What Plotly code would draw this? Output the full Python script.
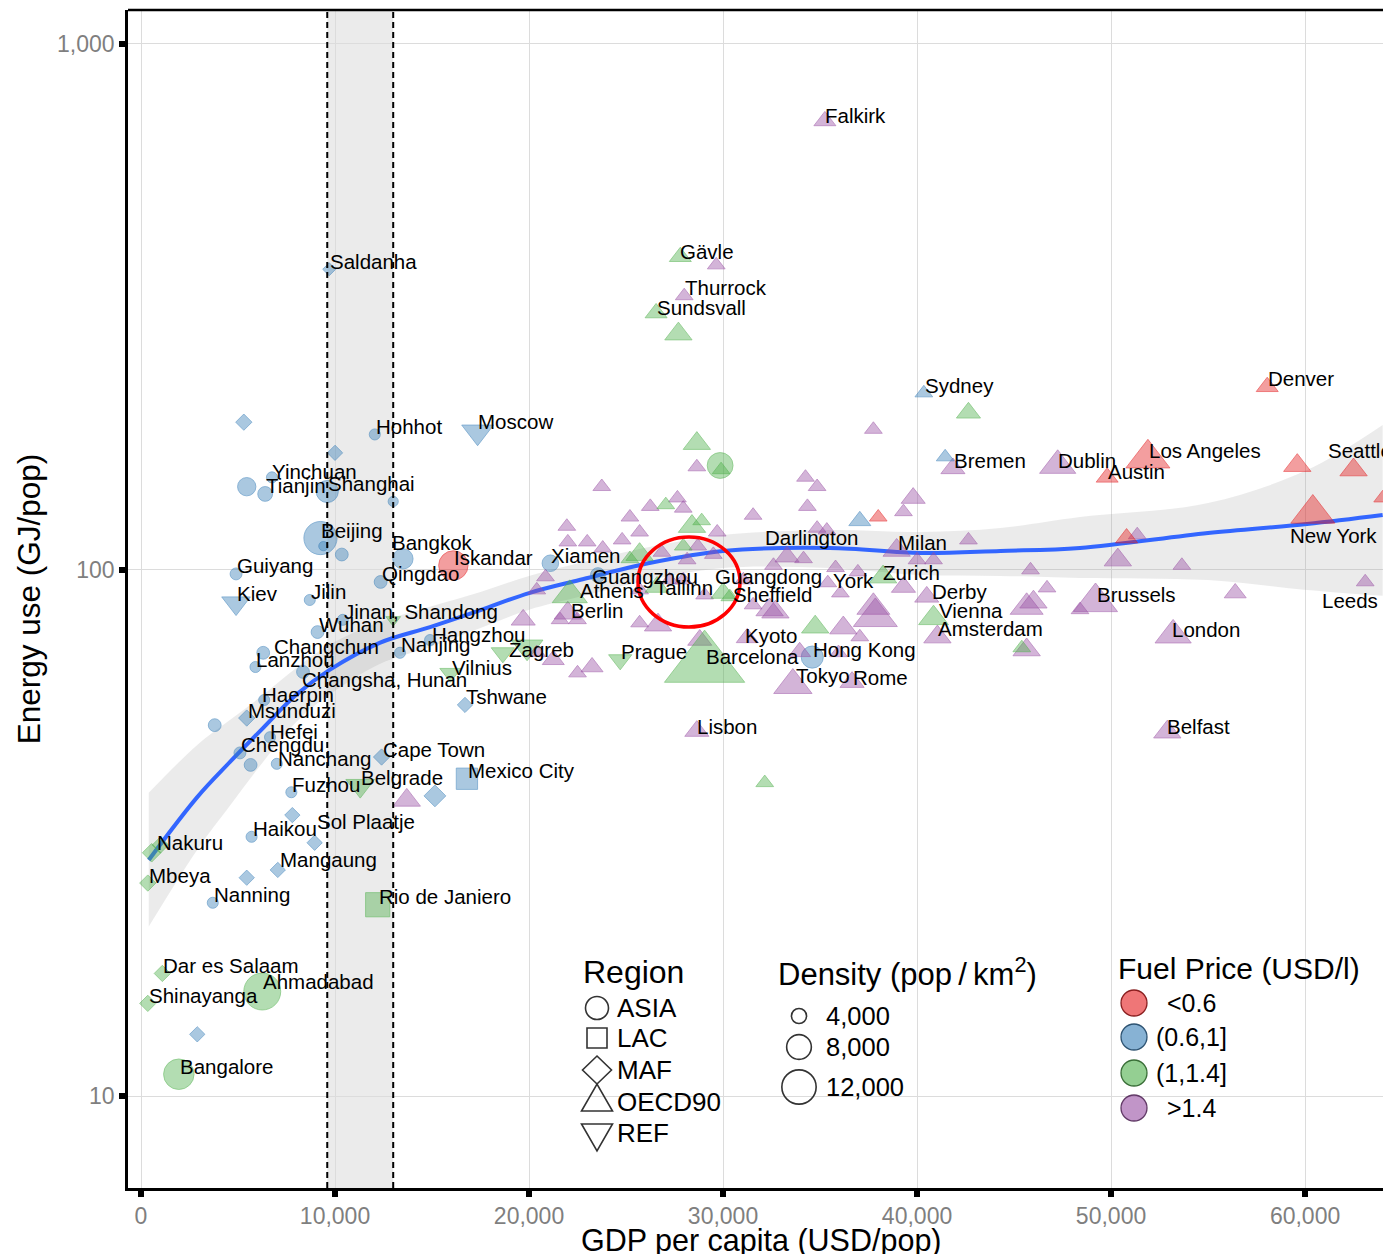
import math
import plotly.graph_objects as go

# ---------------------------------------------------------------- data
R, B, G, P = "<0.6", "(0.6,1]", "(1,1.4]", ">1.4"

# ASIA (circles)
asia_city = ["Hohhot", "Yinchuan", "", "Tianjin", "Shanghai", "", "Beijing", "", "", "Bangkok",
             "Guiyang", "Jilin", "Qingdao", "Jinan, Shandong", "Wuhan", "Changchun", "Lanzhou",
             "Changsha, Hunan", "Haerpin", "", "Hefei", "Chengdu", "", "Nanchang", "Fuzhou", "Haikou",
             "Nanning", "Nanjing", "Hangzhou", "Iskandar", "Xiamen", "Guangzhou", "Hong Kong", "",
             "Ahmadabad", "Bangalore"]
asia_gdp = [12050, 6750, 5450, 6400, 9600, 13000, 9250, 9400, 10350, 13500,
            4900, 8700, 12350, 10400, 9100, 6300, 5900, 8350, 6350, 3800,
            6650, 5100, 5650, 7000, 7750, 5700, 3700, 13350, 14900, 16100,
            21100, 23550, 34600, 29850, 6250, 1950]
asia_energy = [181, 150, 144, 139.5, 141, 135, 115, 111, 107, 105,
               98.3, 87.7, 94.9, 80.4, 76.2, 69.6, 65.4, 64.0, 56.6, 50.7,
               48.1, 44.9, 42.6, 42.8, 37.8, 31.1, 23.3, 69.6, 73.6, 102,
               103, 97.8, 68.3, 158, 15.8, 11.0]
asia_fuel = [B] * 29 + [R, B, B, B, G, G, G]
asia_density = [2700, 2700, 6000, 4400, 7700, 2300, 12700, 1900, 3500, 6900,
                3100, 2700, 3500, 2700, 3500, 3500, 2700, 3500, 2700, 3500,
                2700, 3100, 3500, 2700, 2700, 2700, 2700, 2700, 2700, 11000,
                5200, 4400, 7700, 9400, 14400, 11500]

# MAF (diamonds)
maf_city = ["", "", "Saldanha", "Msunduzi", "", "Sol Plaatje", "Mangaung", "", "Cape Town", "",
            "Tshwane", "", "Nakuru", "", "Mbeya", "Dar es Salaam", "Shinayanga"]
maf_gdp = [5300, 10000, 9700, 5450, 7800, 8950, 7050, 5450, 12400, 15150,
           16700, 2900, 550, 1000, 350, 1100, 350]
maf_energy = [191, 167, 373, 52.3, 34.2, 30.3, 26.9, 26.0, 44.1, 37.2,
              55.4, 13.1, 29.0, 30.0, 25.4, 17.1, 15.0]
maf_fuel = [B] * 12 + [G] * 5
maf_density = [2700, 2400, 1700, 2700, 2400, 2400, 2400, 2400, 2700, 4400,
               2400, 2400, 3400, 2700, 2700, 2700, 2700]

# LAC (squares)
lac_city = ["Mexico City", "Rio de Janiero"]
lac_gdp = [16800, 12200]
lac_energy = [40.1, 23.1]
lac_fuel = [B, G]
lac_density = [8100, 9500]

# REF (triangles down)
ref_city = ["Kiev", "Moscow", "", "Belgrade", "Zagreb", "", "Vilnius", "Prague"]
ref_gdp = [4900, 17350, 13000, 11300, 18650, 19900, 15950, 24700]
ref_energy = [86.5, 183, 80.4, 38.9, 69.6, 71.4, 63.7, 67.5]
ref_fuel = [B, B, G, G, G, G, G, G]
ref_density = [6100, 7000, 2000, 6100, 4500, 7000, 3900, 4500]

# OECD90 (triangles up), split by fuel price class
oecd_red_city = ["Denver", "Los Angeles", "Austin", "", "Seattle", "", "New York", "", ""]
oecd_red_gdp = [58050, 51900, 49800, 59600, 62500, 64000, 60400, 50800, 38000]
oecd_red_energy = [223, 163, 150, 158, 155, 137, 128, 115, 126]
oecd_red_density = [3900, 10100, 3900, 5400, 5400, 2700, 10100, 3900, 2700]

oecd_blue_city = ["Sydney", "", ""]
oecd_blue_gdp = [40350, 41450, 37050]
oecd_blue_energy = [217, 164, 124]
oecd_blue_density = [2700, 2700, 3900]

oecd_green_city = ["Gävle", "Sundsvall", "", "", "", "", "", "", "", "", "", "",
                   "Athens", "Tallinn", "", "", "Barcelona", "", "Zurich", "Vienna", "", ""]
oecd_green_gdp = [27800, 26550, 27700, 42650, 28650, 29900, 27050, 28400, 28900, 25700, 27950, 25200,
                  22100, 26600, 30000, 30350, 29050, 34750, 38250, 40850, 45400, 32150]
oecd_green_energy = [394, 308, 281, 199, 174, 155, 133, 121, 124, 107, 111, 105,
                     89.6, 92.8, 90.4, 88.9, 66.0, 77.9, 97.0, 81.0, 71.1, 39.4]
oecd_green_density = [3900, 3900, 5400, 4500, 5400, 2700, 2700, 5400, 2700, 5400, 2700, 2700,
                      7600, 4500, 4500, 2700, 20300, 5400, 5400, 6100, 2700, 2700]

oecd_purple_city = ["Falkirk", "", "Thurrock", "", "", "", "Bremen", "Dublin", "", "",
                    "", "", "", "", "", "", "", "", "", "",
                    "", "", "", "", "", "", "", "", "", "",
                    "", "Guangdong", "Darlington", "", "", "Milan", "", "", "", "",
                    "", "", "", "", "", "", "Sheffield", "", "", "",
                    "", "", "", "York", "Derby", "", "", "", "", "",
                    "Amsterdam", "", "", "", "", "", "Tokyo", "Rome", "Berlin", "",
                    "", "", "", "", "", "Kyoto", "", "", "", "",
                    "Lisbon", "", "", "", "", "Brussels", "", "Leeds", "London", "Belfast",
                    ""]
oecd_purple_gdp = [35250, 29650, 28000, 28650, 23750, 37750, 41850, 47250, 34250, 34850,
                   34350, 39800, 39300, 27650, 26250, 27950, 25200, 21950, 25700, 29700,
                   31550, 34850, 35350, 42650, 22000, 23000, 23800, 24800, 26850, 28150,
                   28700, 29500, 33300, 34150, 32600, 38950, 40000, 40850, 45850, 35800,
                   36950, 20850, 20400, 25700, 27250, 27950, 29050, 31050, 31550, 32400,
                   39300, 46700, 36050, 35400, 40500, 46000, 45650, 32700, 37750, 37850,
                   41050, 45650, 36200, 37050, 33950, 35950, 33600, 36650, 22000, 21600,
                   22500, 19700, 25700, 26650, 28800, 31250, 20400, 21250, 22500, 23250,
                   28650, 13700, 51350, 50350, 53650, 49200, 56400, 63100, 53200, 52900,
                   48400]
oecd_purple_energy = [714, 380, 332, 157, 144, 185, 156, 158, 150, 144,
                      132, 137, 129, 137, 132, 131, 126, 121, 118, 118,
                      127, 120, 119, 114, 113, 113, 110, 114, 108, 104.5,
                      111, 107, 106, 105, 102, 109, 104.5, 104.5, 100, 101,
                      99.1, 97.0, 91.6, 91.6, 95.7, 95.7, 89.6, 95.7, 85.8, 84.0,
                      92.8, 92.4, 90.4, 94.5, 88.9, 86.9, 85.0, 83.2, 85.0, 81.4,
                      74.6, 70.5, 77.6, 74.6, 69.9, 69.6, 60.4, 61.2, 82.8, 80.4,
                      80.4, 80.4, 79.3, 78.6, 73.6, 74.3, 69.6, 67.5, 63.7, 65.4,
                      49.4, 36.5, 116.6, 104.5, 102, 86.9, 90.4, 94.9, 75.2, 49.2,
                      84.0]
oecd_purple_density = [3900, 2700, 2700, 2700, 2700, 2700, 4500, 7900, 2700, 2700,
                       2700, 4500, 2700, 2700, 2700, 2700, 2700, 2700, 2700, 2700,
                       2700, 2700, 2700, 2700, 2700, 2700, 2700, 2700, 2700, 2700,
                       2700, 2700, 4500, 2700, 2700, 5400, 2700, 2700, 2700, 2700,
                       2700, 2700, 2700, 2700, 2700, 2700, 2700, 2700, 2700, 5400,
                       4500, 2700, 2700, 2700, 4500, 5400, 7000, 5400, 7000, 10100,
                       5400, 5400, 5400, 2700, 3900, 2700, 8500, 4500, 5400, 2700,
                       2700, 4500, 2700, 5400, 4500, 3900, 2700, 3900, 2700, 3900,
                       4500, 5400, 2700, 5400, 2700, 10100, 3900, 2700, 7900, 5400,
                       2700]

# loess fit with confidence band
smooth_gdp = [400, 2900, 4600, 6300, 8000, 9700, 12300, 14900, 17500, 20000,
              22600, 26200, 30000, 35500, 40200, 44300, 48400, 55000, 60100, 64000]
smooth_fit = [28.1, 37.0, 43.2, 50.1, 57.9, 64.5, 72.7, 77.9, 83.9, 90.4,
              95.7, 103.1, 108.7, 110.1, 107.7, 108.7, 110.1, 117.6, 122.3, 127.2]
smooth_hi = [37.7, 46.5, 51.9, 57.9, 65.1, 72.0, 79.6, 85.1, 90.8, 97.4,
             103.1, 110.6, 116.6, 119.1, 118.1, 120.2, 126.1, 134.1, 154.9, 188.7]
smooth_lo = [21.0, 29.4, 35.7, 43.2, 51.4, 57.9, 66.3, 71.4, 77.6, 84.0,
             88.9, 95.7, 100.9, 100.9, 97.8, 97.4, 96.6, 95.7, 91.6, 89.3]

band_gdp = [9600, 13000]

x_ticks = [0, 10000, 20000, 30000, 40000, 50000, 60000]
y_ticks = [10, 100, 1000]
y_ticktext = ["10", "100", "1,000"]

region_levels = ["ASIA", "LAC", "MAF", "OECD90", "REF"]
density_levels = [4000, 8000, 12000]
fuel_levels = [R, B, G, P]

# ---------------------------------------------------------------- styles
FONT = "Liberation Sans, Arial, Helvetica, sans-serif"
FUEL_RGB = {R: (228, 26, 28), B: (55, 126, 184), G: (77, 175, 74), P: (152, 78, 163)}
SYMBOL = {"ASIA": "circle", "LAC": "square", "MAF": "diamond",
          "OECD90": "triangle-up", "REF": "triangle-down"}
SHAPE_FACTOR = {"ASIA": 0.97, "LAC": 0.9, "MAF": 1.1, "OECD90": 1.35, "REF": 1.3}
POINT_SCALE = 0.95


def rgba(f, a):
    r, g, b = FUEL_RGB[f]
    return f"rgba({r},{g},{b},{a})"


def diam(dens):
    return 5.5 + 0.0024 * dens


# label nudges (pixels: dx right, dy down) relative to default placement
DEFAULT_NUDGE = (1, -8)
NUDGE = {
    "Seattle": (-26, -19), "New York": (-23, 22), "Darlington": (-22, -19),
    "Bangkok": (-11, -16), "Moscow": (0, -10), "Guangzhou": (-6, 1), "Guangdong": (2, 22),
    "York": (5, -2), "Zurich": (0, -4), "Athens": (10, -5), "Tallinn": (-2, 0),
    "Sheffield": (28, -1), "Leeds": (-43, 19), "Berlin": (3, -3), "Changchun": (11, -6),
    "Zagreb": (6, -3), "Kyoto": (-2, -2), "Changsha, Hunan": (-1, 8), "Sol Plaatje": (2, -21),
    "Derby": (5, -5), "Falkirk": (0, -5), "Gävle": (0, -5), "Dublin": (0, -5),
    "Lisbon": (0, -5), "Rome": (1, -5), "Nanchang": (1, -5), "Kiev": (1, -10),
    "Nakuru": (5, -10), "Mangaung": (2, -10), "Ahmadabad": (1, -10), "Vienna": (5, -8),
    "Yinchuan": (0, -6), "Sundsvall": (1, -6), "Austin": (1, -6), "London": (-1, -6),
    "Hefei": (0, -6), "Hangzhou": (2, -6), "Haerpin": (-2, -6), "Vilnius": (2, -6),
    "Belfast": (0, -6), "Tokyo": (3, -10),
}

groups = [
    ("MAF", maf_city, maf_gdp, maf_energy, maf_fuel, maf_density),
    ("ASIA", asia_city, asia_gdp, asia_energy, asia_fuel, asia_density),
    ("LAC", lac_city, lac_gdp, lac_energy, lac_fuel, lac_density),
    ("REF", ref_city, ref_gdp, ref_energy, ref_fuel, ref_density),
    ("OECD90", oecd_purple_city, oecd_purple_gdp, oecd_purple_energy,
     [P] * len(oecd_purple_gdp), oecd_purple_density),
    ("OECD90", oecd_green_city, oecd_green_gdp, oecd_green_energy,
     [G] * len(oecd_green_gdp), oecd_green_density),
    ("OECD90", oecd_blue_city, oecd_blue_gdp, oecd_blue_energy,
     [B] * len(oecd_blue_gdp), oecd_blue_density),
    ("OECD90", oecd_red_city, oecd_red_gdp, oecd_red_energy,
     [R] * len(oecd_red_gdp), oecd_red_density),
]

fig = go.Figure()

# loess confidence band + fit
fig.add_trace(go.Scatter(x=smooth_gdp, y=smooth_hi, mode="lines", line=dict(width=0, shape="spline"),
                         hoverinfo="skip"))
fig.add_trace(go.Scatter(x=smooth_gdp, y=smooth_lo, mode="lines", line=dict(width=0, shape="spline"),
                         fill="tonexty", fillcolor="rgba(153,153,153,0.2)", hoverinfo="skip"))
fig.add_trace(go.Scatter(x=smooth_gdp, y=smooth_fit, mode="lines",
                         line=dict(color="#3366FF", width=4, shape="spline"), hoverinfo="skip"))

annotations = []
for region, city, gdp, energy, fuel, dens in groups:
    sizes = [diam(d) * SHAPE_FACTOR[region] * POINT_SCALE for d in dens]
    fig.add_trace(go.Scatter(
        x=gdp, y=energy, mode="markers", text=city,
        marker=dict(symbol=SYMBOL[region], size=sizes,
                    color=[rgba(f, 0.6) for f in fuel],
                    line=dict(color=[rgba(f, 0.75) for f in fuel], width=1)),
    ))
    for c, xg, ye in zip(city, gdp, energy):
        if not c:
            continue
        dx, dy = NUDGE.get(c, DEFAULT_NUDGE)
        annotations.append(dict(
            x=xg, y=math.log10(ye), xref="x", yref="y", text=c, showarrow=False,
            xanchor="left", yanchor="middle", xshift=dx - 2, yshift=-dy,
            font=dict(family=FONT, size=20.5, color="black")))

# ---------------------------------------------------------------- layout geometry
# the page adds an 8px body margin; geometry below is in page pixels
PAGE_OFF = 8
FIG_W, FIG_H = 1391 - PAGE_OFF, 1254 - PAGE_OFF
ML, MT, MB, MR = 128 - PAGE_OFF, 10 - PAGE_OFF, 66, 0
PW = FIG_W - ML - MR
PH = FIG_H - MT - MB


def px(x, y):
    """page pixel -> paper fraction"""
    return (x - PAGE_OFF - ML) / PW, (MT + PH - (y - PAGE_OFF)) / PH


shapes = []
# vertical gray band with dashed edges
shapes.append(dict(type="rect", xref="x", yref="paper", x0=band_gdp[0], x1=band_gdp[1], y0=0, y1=1,
                   fillcolor="#EBEBEB", line=dict(width=0), layer="between"))
for xv in band_gdp:
    shapes.append(dict(type="line", xref="x", yref="paper", x0=xv, x1=xv, y0=0, y1=1,
                       line=dict(color="black", width=2, dash="6px,4px"), layer="above"))
# top frame
shapes.append(dict(type="line", xref="paper", yref="paper", x0=0, x1=1, y0=1, y1=1,
                   line=dict(color="black", width=2.5), layer="above"))

# legend backgrounds
for (x0, y0, x1, y1) in [(575, 945, 743, 1152), (769, 947, 1078, 1117), (1109, 940, 1376, 1140)]:
    a0, b0 = px(x0, y1)
    a1, b1 = px(x1, y0)
    shapes.append(dict(type="rect", xref="paper", yref="paper", x0=a0, x1=a1, y0=b0, y1=b1,
                       fillcolor="white", line=dict(width=0), layer="between"))


def sym(kind, cx, cy, w, h, fill="rgba(0,0,0,0)", lc="#333333", lw=1.6):
    xa, ya = px(cx, cy)
    s = dict(xref="paper", yref="paper", xsizemode="pixel", ysizemode="pixel",
             xanchor=xa, yanchor=ya, fillcolor=fill, line=dict(color=lc, width=lw), layer="above")
    if kind == "circle":
        s.update(type="circle", x0=-w / 2, x1=w / 2, y0=-h / 2, y1=h / 2)
    elif kind == "square":
        s.update(type="rect", x0=-w / 2, x1=w / 2, y0=-h / 2, y1=h / 2)
    elif kind == "diamond":
        s.update(type="path", path=f"M 0 {h/2} L {w/2} 0 L 0 {-h/2} L {-w/2} 0 Z")
    elif kind == "triangle-up":
        s.update(type="path", path=f"M {-w/2} {-h/3} L {w/2} {-h/3} L 0 {2*h/3} Z")
    elif kind == "triangle-down":
        s.update(type="path", path=f"M {-w/2} {h/3} L {w/2} {h/3} L 0 {-2*h/3} Z")
    return s


def text(x, y, t, size, anchor="left", color="black"):
    xa, ya = px(x, y)
    return dict(x=xa, y=ya, xref="paper", yref="paper", text=t, showarrow=False,
                xanchor=anchor, yanchor="middle", font=dict(family=FONT, size=size, color=color))


# x axis title (placed explicitly so it sits below the tick labels like the original)
annotations.append(text(761, 1240, "GDP per capita (USD/pop)", 30.5, anchor="center"))

# Region legend
annotations.append(text(581, 972, "Region", 32))
reg_y = [1008, 1038, 1070, 1102, 1133]
reg_dims = {"ASIA": (23, 23), "LAC": (20, 20), "MAF": (29, 28), "OECD90": (31, 27), "REF": (31, 27)}
for lvl, yy in zip(region_levels, reg_y):
    w, h = reg_dims[lvl]
    shapes.append(sym(SYMBOL[lvl], 597, yy, w, h))
    annotations.append(text(615, yy, lvl, 26))

# Density legend
annotations.append(text(776, 972, "Density (pop\u2009/\u2009km<sup>2</sup>)", 31))
den_y = [1016, 1047, 1087]
for lvl, yy in zip(density_levels, den_y):
    d = diam(lvl)
    shapes.append(sym("circle", 799, yy, d, d))
    annotations.append(text(824, yy, f"{lvl:,}", 25.5))

# Fuel legend
annotations.append(text(1116, 968, "Fuel Price (USD/l)", 30))
fuel_y = [1003, 1037, 1073, 1108]
fuel_txt = ["&lt;0.6", "(0.6,1]", "(1,1.4]", "&gt;1.4"]
for lvl, yy, t in zip(fuel_levels, fuel_y, fuel_txt):
    r, g, b = FUEL_RGB[lvl]
    shapes.append(sym("circle", 1134, yy, 26, 26, fill=rgba(lvl, 0.6),
                      lc=f"rgba({int(r*0.55)},{int(g*0.55)},{int(b*0.55)},0.9)", lw=1.3))
    annotations.append(text(1191, yy, t, 25, anchor="center"))

# red highlight ellipse
e0 = px(638, 627)
e1 = px(740, 537)
shapes.append(dict(type="circle", xref="paper", yref="paper", x0=e0[0], x1=e1[0], y0=e0[1], y1=e1[1],
                   line=dict(color="#FF0000", width=3.5), fillcolor="rgba(0,0,0,0)", layer="above"))

fig.update_layout(
    width=FIG_W, height=FIG_H,
    margin=dict(l=ML, r=MR, t=MT, b=MB, autoexpand=False),
    plot_bgcolor="white", paper_bgcolor="white",
    showlegend=False, hovermode=False,
    font=dict(family=FONT),
    shapes=shapes, annotations=annotations,
)
axis_common = dict(showgrid=True, gridcolor="#DCDCDC", gridwidth=1, zeroline=False,
                   showline=True, linecolor="black", linewidth=2.5, mirror=False,
                   ticks="outside", ticklen=6, tickwidth=6, tickcolor="black", automargin=False,
                   tickfont=dict(family=FONT, size=23, color="#7F7F7F"))
fig.update_xaxes(range=[-670, 64430], tickvals=x_ticks, tickformat=",d", **axis_common)
fig.update_yaxes(type="log", range=[0.8251, 3.0646], tickvals=y_ticks, ticktext=y_ticktext,
                 title=dict(text="Energy use (GJ/pop)", font=dict(family=FONT, size=31.5, color="black"),
                            standoff=8),
                 **axis_common)

fig.write_html("out.html")
